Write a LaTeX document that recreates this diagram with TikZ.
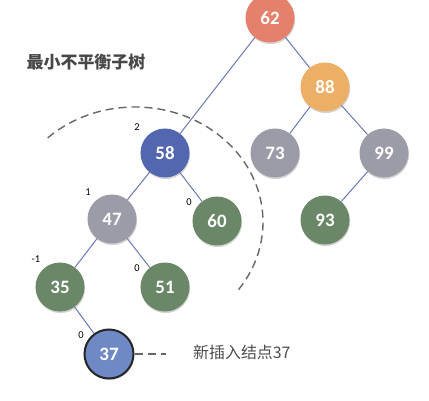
\documentclass[tikz,border=0pt]{standalone}
\usepackage{fontspec}
\usepackage{tikz}
\usetikzlibrary{arrows,positioning,calc,shadows}
\newfontfamily\cjk{Noto Sans CJK SC}
\newfontfamily\numfont{Carlito}
\definecolor{redn}{HTML}{E5806B}
\definecolor{orangen}{HTML}{EDAE66}
\definecolor{bluen}{HTML}{5367B1}
\definecolor{grayn}{HTML}{9C9CA8}
\definecolor{greenn}{HTML}{6A8767}
\definecolor{newn}{HTML}{6F88C6}
\definecolor{edgec}{HTML}{6B77B5}

\begin{document}
\begin{tikzpicture}[x=1bp,y=1bp,
  tn/.style={circle,minimum size=49bp,inner sep=0pt,text=white,font=\numfont\bfseries\fontsize{19}{19}\selectfont,drop shadow={shadow xshift=0.6bp,shadow yshift=-1.6bp,opacity=0.35}},
  bf/.style={font=\numfont\fontsize{10.5}{10.5}\selectfont,inner sep=0pt},
  ed/.style={edgec,line width=1bp},
  dsh/.style={black!60,line width=1.4bp,dash pattern=on 8bp off 5bp}]
            \useasboundingbox (0,0) rectangle (429,401);
            \node [tn,fill=redn] (n62) at (270,383) {62};
            \node [tn,fill=orangen] (n88) at (325,314) {88};
            \node [tn,fill=bluen] (n58) at (165,248) {58};
            \node [tn,fill=grayn] (n73) at (275,248) {73};
            \node [tn,fill=grayn] (n99) at (384,248) {99};
            \node [tn,fill=grayn] (n47) at (112,182) {47};
            \node [tn,fill=greenn] (n60) at (217,180) {60};
            \node [tn,fill=greenn] (n93) at (325,181) {93};
            \node [tn,fill=greenn] (n35) at (60,114) {35};
            \node [tn,fill=greenn] (n51) at (165,114) {51};
            \node [tn,fill=newn,draw=black!85,line width=2bp] (n37) at (109,47) {37};
            \foreach \a/\b in {n62/n58,n62/n88,n88/n73,n88/n99,n58/n47,n58/n60,n99/n93,n47/n35,n47/n51,n35/n37}
              \draw [ed] (\a) -- (\b);
            \node [bf] (b58) at (137,274) {2};
            \node [bf] (b47) at (88,209) {1};
            \node [bf] (b60) at (189,199) {0};
            \node [bf] (b35) at (36,142) {-1};
            \node [bf] (b51) at (137,133) {0};
            \node [bf] (b37) at (81,66) {0};
            \node [font=\cjk\bfseries\fontsize{17}{17}\selectfont,text=black!72] (title) at (86,339) {最小不平衡子树};
            \coordinate (sub) at (135,179);
            \draw [dsh] ($(sub)+(133:128 and 115)$) arc [start angle=133,end angle=-36,x radius=128,y radius=115];
            \node [font=\cjk\fontsize{16}{16}\selectfont,text=black!70,anchor=west,inner sep=0pt] (new) at (193,49) {新插入结点37};
            \coordinate (tip) at (166,47);
            \draw [dsh] (n37) -- (tip);
         \end{tikzpicture}
\end{document}
